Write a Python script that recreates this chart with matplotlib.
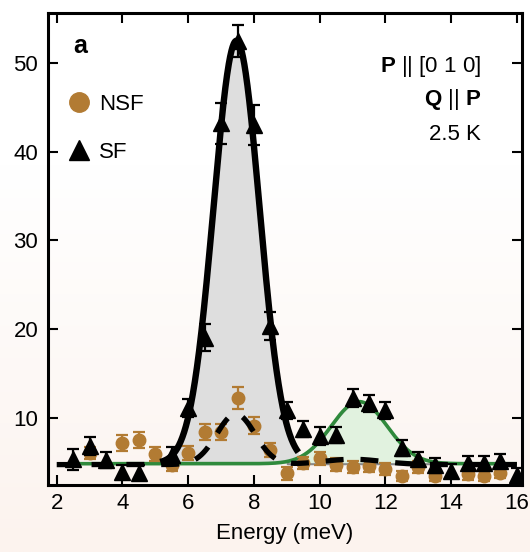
import numpy as np
import matplotlib
matplotlib.use("Agg")
import matplotlib.pyplot as plt
from matplotlib.lines import Line2D

plt.rcParams['font.family'] = ['Liberation Sans', 'DejaVu Sans']
plt.rcParams['mathtext.fontset'] = 'custom'
plt.rcParams['mathtext.rm'] = 'Liberation Sans'
plt.rcParams['mathtext.bf'] = 'Liberation Sans:bold'

# ---- measured intensities ----
sf_energy = [2.5, 3.0, 3.5, 4.0, 4.5, 5.5, 6.0, 6.5, 7.0, 7.5, 8.0, 8.5, 9.0, 9.5,
             10.0, 10.5, 11.0, 11.5, 12.0, 12.5, 13.0, 13.5, 14.0, 14.5, 15.0, 15.5, 16.0]
sf_counts = [5.3, 6.8, 5.2, 3.9, 3.8, 5.8, 11.1, 19.0, 43.2, 52.5, 43.0, 20.3, 10.8, 8.7,
             7.9, 8.0, 12.2, 11.6, 10.8, 6.6, 5.3, 4.6, 4.0, 4.9, 4.9, 5.1, 3.5]
sf_err = [1.2, 1.0, 0.9, 0.8, 0.8, 0.9, 1.0, 1.5, 2.3, 1.8, 2.3, 1.6, 1.0, 0.9,
          1.0, 0.9, 1.0, 1.0, 1.0, 0.9, 0.8, 0.8, 0.8, 0.8, 0.8, 0.8, 0.8]

nsf_energy = [3.0, 4.0, 4.5, 5.0, 5.5, 6.0, 6.5, 7.0, 7.5, 8.0, 8.5, 9.0, 9.5, 10.0,
              10.5, 11.0, 11.5, 12.0, 12.5, 13.0, 13.5, 14.5, 15.0, 15.5]
nsf_counts = [6.0, 7.1, 7.5, 5.9, 4.7, 6.0, 8.4, 8.4, 12.2, 9.1, 6.3, 3.7, 4.9, 5.4,
              4.7, 4.4, 4.55, 4.2, 3.4, 4.4, 3.4, 3.6, 3.4, 3.8]
nsf_err = [0.7, 0.9, 0.9, 0.8, 0.7, 0.8, 0.9, 0.9, 1.2, 1.0, 0.8, 0.7, 0.7, 0.7,
           0.7, 0.7, 0.7, 0.7, 0.6, 0.7, 0.6, 0.6, 0.6, 0.6]

# ---- Gaussian fit parameters: (centre, amplitude, sigma) ----
background = 4.8
sf_peak1 = (7.47, 47.7, 0.70)
sf_peak2 = (11.2, 7.0, 0.85)
nsf_background = 4.7
nsf_peaks = [(7.45, 5.7, 0.58), (11.0, 0.6, 0.9)]

peak1_range = (5.15, 9.35)
peak2_range = (2.5, 16.0)
nsf_range = (2.0, 16.0)

x_ticks = [2, 4, 6, 8, 10, 12, 14, 16]
y_ticks = [10, 20, 30, 40, 50]

brown = '#b27b33'
green = '#2f8a3c'


def gauss(x, c, a, s):
    return a * np.exp(-(x - c) ** 2 / (2 * s ** 2))


fig = plt.figure(figsize=(5.3, 5.52), dpi=100)

# soft vertical background shading
bg = fig.add_axes([0, 0, 1, 1], zorder=-10)
t = np.linspace(0, 1, 256)[:, None]
top = np.array([1.0, 1.0, 1.0])
bot = np.array([252, 243, 238]) / 255.0
w = np.clip((t - 0.3) / 0.7, 0, 1)
grad = top * (1 - w[..., None]) + bot * w[..., None]
grad = np.repeat(grad, 4, axis=1)
bg.imshow(grad, aspect='auto', extent=[0, 1, 0, 1], origin='upper')
bg.axis('off')

ax = fig.add_axes([0.0906, 0.1214, 0.894, 0.8547])
ax.set_facecolor('none')

# fit curves
x1 = np.linspace(*peak1_range, 400)
y1 = background + gauss(x1, *sf_peak1)
x2 = np.linspace(*peak2_range, 600)
y2 = background + gauss(x2, *sf_peak2)
x3 = np.linspace(*nsf_range, 600)
y3 = nsf_background + sum(gauss(x3, *p) for p in nsf_peaks)

ax.fill_between(x1, background, y1, color='#dedede', lw=0, zorder=1)
ax.fill_between(x2, background, y2, where=(x2 > 9.0) & (x2 < 13.8),
                facecolor='#e1f2df', edgecolor='#8a8a8a', lw=1.5, zorder=1.2)
ax.plot(x2, y2, color=green, lw=2.6, zorder=2, solid_capstyle='butt')

ax.errorbar(nsf_energy, nsf_counts, yerr=nsf_err, fmt='o', color=brown, ms=9,
            mec=brown, elinewidth=1.6, capsize=4, capthick=1.6, zorder=3)
ax.errorbar(sf_energy, sf_counts, yerr=sf_err, fmt='^', color='black', ms=11.5,
            elinewidth=1.6, capsize=4, capthick=1.6, zorder=4)

ax.plot(x1, y1, color='black', lw=4.6, zorder=5, solid_capstyle='butt')
ax.plot(x3, y3, color='black', lw=3.8, ls=(0, (3.4, 3.2)), zorder=6,
        dash_capstyle='butt')

ax.set_xlim(1.735, 16.15)
ax.set_ylim(2.4, 55.6)
ax.set_xticks(x_ticks)
ax.set_yticks(y_ticks)
ax.tick_params(direction='in', length=7, width=1.5, labelsize=16,
               top=True, right=True)
ax.tick_params(axis='x', pad=6)
ax.tick_params(axis='y', pad=7)
for sp in ax.spines.values():
    sp.set_linewidth(2.2)

ax.set_xlabel('Energy (meV)', fontsize=16, labelpad=6)

ax.text(0.053, 0.915, 'a', transform=ax.transAxes, fontsize=18,
        fontweight='bold', va='baseline', ha='left')

ax.text(0.9135, 0.875, r'$\mathbf{P}$ || [0 1 0]', transform=ax.transAxes,
        fontsize=16, ha='right', va='baseline')
ax.text(0.9135, 0.805, r'$\mathbf{Q}$ || $\mathbf{P}$', transform=ax.transAxes,
        fontsize=16, ha='right', va='baseline')
ax.text(0.9135, 0.731, '2.5 K', transform=ax.transAxes,
        fontsize=16, ha='right', va='baseline')

handles = [Line2D([], [], marker='o', ms=14, color=brown, ls='none'),
           Line2D([], [], marker='^', ms=15, color='black', ls='none')]
ax.legend(handles, ['NSF', 'SF'], loc='upper left', bbox_to_anchor=(0.042, 0.829),
          frameon=False, fontsize=16, borderpad=0, borderaxespad=0,
          handlelength=1.0, handletextpad=0.4, labelspacing=1.2)

fig.savefig('out.png', dpi=100)
